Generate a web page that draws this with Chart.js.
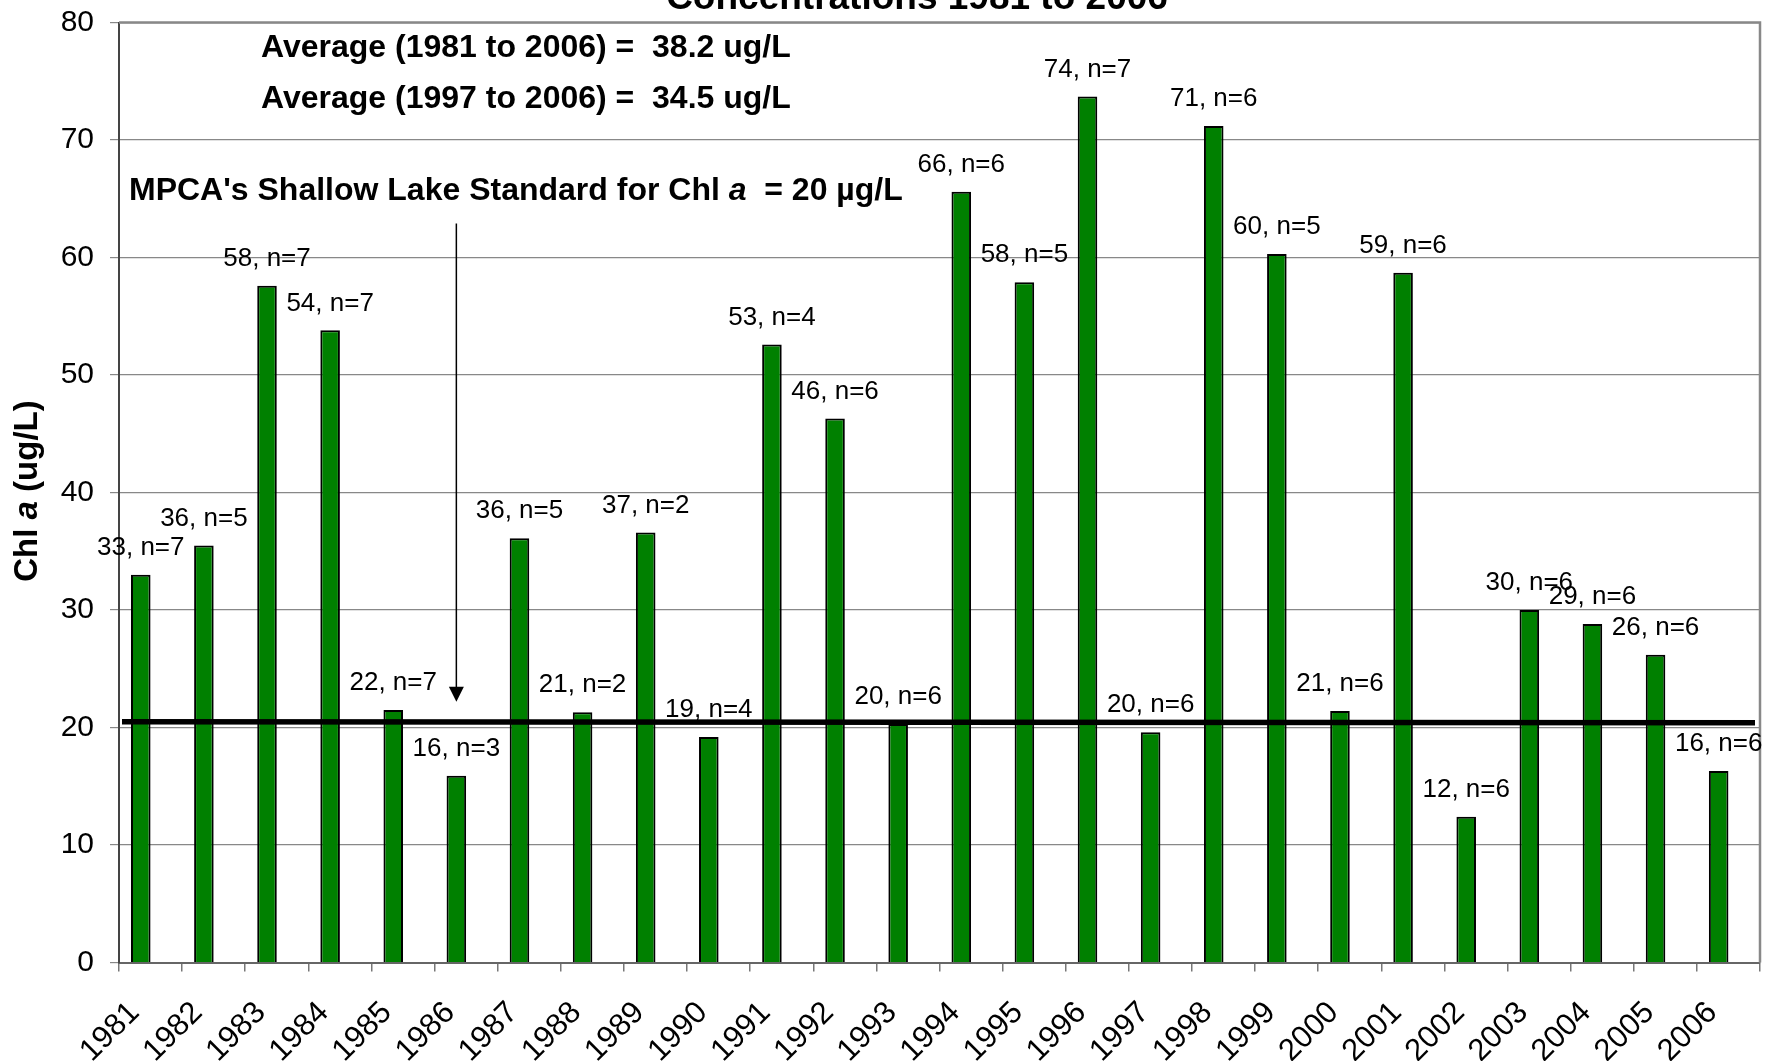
<!DOCTYPE html>
<html>
<head>
<meta charset="utf-8">
<script src="https://cdn.jsdelivr.net/npm/chart.js@4.4.0/dist/chart.umd.min.js"></script>
<style>
  html, body { margin: 0; padding: 0; background: #fff; }
  #wrap { width: 1765px; height: 1061px; }
</style>
</head>
<body>
<div id="wrap"><canvas id="chlChart" width="1765" height="1061"></canvas></div>
<script>
const years = ['1981', '1982', '1983', '1984', '1985', '1986', '1987', '1988', '1989', '1990',
  '1991', '1992', '1993', '1994', '1995', '1996', '1997', '1998', '1999', '2000',
  '2001', '2002', '2003', '2004', '2005', '2006'];
const chlMeans = [33.0, 35.5, 57.6, 53.8, 21.5, 15.9, 36.1, 21.3, 36.6, 19.2,
  52.6, 46.3, 20.3, 65.6, 57.9, 73.7, 19.6, 71.2, 60.3, 21.4,
  58.7, 12.4, 30.0, 28.8, 26.2, 16.3];
const sampleCounts = [7, 5, 7, 7, 7, 3, 5, 2, 2, 4, 4, 6, 6, 6, 5, 7, 6, 6, 5, 6, 6, 6, 6, 6, 6, 6];
const yRange = [0, 80];
const yStep = 10;
// MPCA standard line as drawn on the original (value at left end, value at right end)
const standardLine = [20.5, 20.4];
// arrow pointing at the standard line, in data units, drawn at the 1986 bar
const arrowSpan = [62.9, 22.2];
const arrowYearIndex = 5;

const FONT = "'Liberation Sans', Arial, Helvetica, sans-serif";

// draw a run of [text, italic] pieces starting at x
function drawRuns(ctx, runs, x, y, size) {
  let cx = x;
  runs.forEach(([txt, italic]) => {
    ctx.font = (italic ? 'italic ' : '') + 'bold ' + size + 'px ' + FONT;
    ctx.fillText(txt, cx, y);
    cx += ctx.measureText(txt).width;
  });
}
function runsWidth(ctx, runs, size) {
  return runs.reduce((w, [txt, italic]) => {
    ctx.font = (italic ? 'italic ' : '') + 'bold ' + size + 'px ' + FONT;
    return w + ctx.measureText(txt).width;
  }, 0);
}

const noPad = (s) => {
  s.paddingLeft = 0; s.paddingRight = 0; s.paddingTop = 0; s.paddingBottom = 0;
};

const decorations = {
  id: 'decorations',
  afterDatasetsDraw(chart) {
    const { ctx, chartArea, scales: { x, y } } = chart;
    const bars = chart.getDatasetMeta(0).data;
    ctx.save();

    // frame top and right
    ctx.strokeStyle = '#888';
    ctx.lineWidth = 2.5;
    ctx.beginPath();
    ctx.moveTo(chartArea.left, chartArea.top);
    ctx.lineTo(chartArea.right, chartArea.top);
    ctx.lineTo(chartArea.right, chartArea.bottom);
    ctx.stroke();

    // value labels
    ctx.fillStyle = '#000';
    ctx.font = '26px ' + FONT;
    ctx.textAlign = 'center';
    ctx.textBaseline = 'middle';
    bars.forEach((bar, i) => {
      ctx.fillText(Math.round(chlMeans[i]) + ', n=' + sampleCounts[i], bar.x, bar.y - 27);
    });

    // standard line
    ctx.strokeStyle = '#000';
    ctx.lineWidth = 5.5;
    ctx.beginPath();
    ctx.moveTo(chartArea.left + 3, y.getPixelForValue(standardLine[0]));
    ctx.lineTo(chartArea.right - 5, y.getPixelForValue(standardLine[1]));
    ctx.stroke();

    // arrow
    const ax = bars[arrowYearIndex].x;
    const ay0 = y.getPixelForValue(arrowSpan[0]);
    const ay1 = y.getPixelForValue(arrowSpan[1]);
    ctx.lineWidth = 1.5;
    ctx.beginPath();
    ctx.moveTo(ax, ay0);
    ctx.lineTo(ax, ay1 - 14);
    ctx.stroke();
    ctx.beginPath();
    ctx.moveTo(ax - 7.5, ay1 - 15);
    ctx.lineTo(ax + 7.5, ay1 - 15);
    ctx.lineTo(ax, ay1);
    ctx.closePath();
    ctx.fill();

    // text boxes
    ctx.textAlign = 'left';
    ctx.textBaseline = 'middle';
    drawRuns(ctx, [['Average (1981 to 2006) =  38.2 ug/L', false]], 261, 48, 32);
    drawRuns(ctx, [['Average (1997 to 2006) =  34.5 ug/L', false]], 261, 99, 32);
    drawRuns(ctx, [["MPCA's Shallow Lake Standard for Chl ", false], ['a', true], ['  = 20 \u00b5g/L', false]], 129, 191, 32);

    // title (top line falls outside the picture)
    ctx.textAlign = 'center';
    ctx.textBaseline = 'alphabetic';
    ctx.font = 'bold 37px ' + FONT;
    ctx.fillText('Concentrations 1981 to 2006', 917, 8.5);

    // y axis title
    const yRuns = [['Chl ', false], ['a', true], [' (ug/L)', false]];
    ctx.translate(28, 491);
    ctx.rotate(-Math.PI / 2);
    ctx.textAlign = 'left';
    ctx.textBaseline = 'middle';
    drawRuns(ctx, yRuns, -runsWidth(ctx, yRuns, 33) / 2, 0, 33);
    ctx.restore();
  }
};

new Chart(document.getElementById('chlChart'), {
  type: 'bar',
  data: {
    labels: years,
    datasets: [
      {
        label: 'Chl a',
        data: chlMeans,
        backgroundColor: '#008000',
        borderColor: '#000',
        borderWidth: 2,
        borderSkipped: 'bottom',
        categoryPercentage: 0.62,
        barPercentage: 1,
      },
      {
        label: 'spacer',
        data: years.map(() => null),
        categoryPercentage: 0.62,
        barPercentage: 1,
      },
    ],
  },
  options: {
    responsive: false,
    animation: false,
    devicePixelRatio: 1,
    layout: { padding: { left: 0, right: 5, top: 22.5, bottom: 0 } },
    plugins: { legend: { display: false }, tooltip: { enabled: false } },
    scales: {
      x: {
        afterFit: (s) => { s.height = 98.5; noPad(s); },
        grid: { offset: true, drawOnChartArea: false, color: '#777', tickLength: 9, lineWidth: 1.5 },
        border: { color: '#666', width: 2 },
        ticks: {
          color: '#000',
          font: { family: FONT, size: 31 },
          minRotation: 45,
          maxRotation: 45,
          padding: 23,
          labelOffset: -16,
          autoSkip: false,
        },
      },
      y: {
        min: yRange[0],
        max: yRange[1],
        afterFit: (s) => { s.width = 119; noPad(s); },
        grid: { color: '#888', lineWidth: 1.2, tickLength: 9 },
        border: { color: '#444', width: 2 },
        ticks: {
          stepSize: yStep,
          color: '#000',
          padding: 16,
          font: { family: FONT, size: 30 },
        },
      },
    },
  },
  plugins: [decorations],
});
</script>
</body>
</html>
